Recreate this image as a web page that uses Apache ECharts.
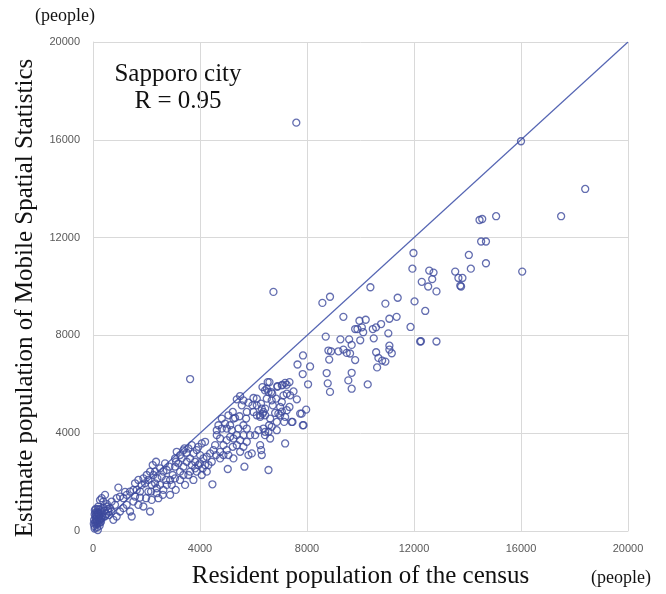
<!DOCTYPE html>
<html>
<head>
<meta charset="utf-8">
<script src="https://cdn.jsdelivr.net/npm/echarts@6/dist/echarts.min.js"></script>
<style>
html,body{margin:0;padding:0;background:#fff;}
#chart{width:666px;height:594px;}
</style>
</head>
<body>
<div id="chart"></div>
<script>
// Axis ticks
var xTicks = [0, 4000, 8000, 12000, 16000, 20000];
var yTicks = [0, 4000, 8000, 12000, 16000, 20000];
// Reference line y = x
var lineEnds = [[0, 0], [20000, 20000]];

// Census (x) and Mobile Spatial Statistics estimate (y), grouped by range
var censusA = [50,80,100,120,150,180,200,220,250,60,90,130,170,210,240,280,300,40,70,110,160,190,230,260,320,350,380,30,140,200,100,250,150,60,300,420,450,500,520,560,600,180,90,270,330];
var mobileA = [200,350,500,650,420,300,750,550,880,100,600,280,700,450,620,800,520,450,850,400,150,900,680,350,720,580,950,300,580,1000,900,220,760,680,380,820,600,700,1100,900,650,40,750,480,620];

var censusB = [325,387,948,761,886,1385,1447,1135,1010,1385,1260,1135,1010,886,823,698,636,574,512,1634,1759,1983,2070,2133,2195,1509,1696,1571,1883,1260,698,449,262,1200];
var mobileB = [1341,1205,1775,459,594,798,594,934,798,1613,1477,1341,1409,1341,1070,798,934,798,1002,1680,1613,1341,1612,798,1273,1205,1070,1409,1002,1070,1205,1477,1262,1600];

var censusC = [1821,1945,2070,2232,2357,2133,2257,2407,2569,2507,2631,2756,2694,2856,2607,2382,2507,2756,2881,3093,2195,2320,2008,1883,1696,1571,2445,2631,2980,2731,2943,3068,2881,2320,2382,2170,1759,1509];
var mobileC = [1884,1951,2087,2698,2833,2426,2291,2155,2223,2562,2426,2494,2766,2630,1477,1748,1884,1884,2087,1680,1884,1951,2291,2155,2087,1951,1341,1680,2291,2087,1884,2155,1477,2426,1545,1612,1368,1680];

var censusD = [3130,3068,3317,3192,3068,3254,3379,3504,3567,3417,3504,3691,3878,3754,4103,4191,4252,3941,4003,4066,4191,4128,4252,4377,4464,3379,3629,3816,3941,3254,3442,3629,3754,3878,3567,4066,4315,4440,3105,3254,3379,3816,4003,3691,3630];
var mobileD = [3240,2969,2969,2766,2630,2426,2291,3200,3376,3376,2833,2698,2426,2087,2562,2698,2426,3444,3105,3580,3648,2969,3037,3173,1911,2630,2426,2833,2698,2087,1884,2969,3173,3308,2291,2291,2698,2833,2833,3105,3300,2562,2766,3512,6215];

var censusE = [4565,4502,4602,4627,4751,4876,4814,4627,4938,5000,5126,5250,5000,5225,5375,5500,5038,5661,5126,5437,5749,5873,5225,5312,5475,5724,5375,5500,5624,5562,5811,5961,5998,5935,5811,4751,4876,5063,5250,5500,5624,5749,4751,5188,5000,4814,5063,5624,5749,5375,5624,4689,5250];
var mobileE = [3512,3308,3105,3919,3783,3512,4191,4123,4394,3716,3851,3783,3308,3444,3512,3716,2535,2630,4326,4191,4191,3919,4869,4625,4693,4598,5385,5520,5344,5140,5249,5140,4869,3173,3105,3240,3105,3105,2969,3240,3444,3648,2969,4123,4191,4598,4733,4326,4869,3919,3919,4326,4598];

var censusF = [6123,5998,6335,6497,6597,6660,6846,6721,6996,7058,6809,6622,6584,6435,6347,6248,6123,6310,6435,6185,6060,6248,6285,6310,6560,6896,7058,7183,7345,7495,7120,7245,7370,7620,7345,7145,7183,7457,7744,7968,7844,7183,6435,6622,6871,6871,6996,6497,6123,6372,6530,6890,7080,7240,6560,6700,6430,6680,7245,6930,7060,7800,7430,7870,6280,6370,6250,6680,6560,6430,6745,7645];
var mobileF = [5412,5440,5887,5819,6090,5683,5412,5140,5073,5276,4828,4598,4326,4733,4801,4666,4733,5005,5005,4123,3919,3512,3308,3105,2494,5928,5955,6060,6090,5710,5548,5615,5548,5385,5073,4462,4666,4462,4801,4964,4326,3580,4055,3783,4123,4462,4733,5412,5140,4191,6090,5900,5980,5980,5685,5617,5750,5345,4940,4800,4885,4800,4460,4330,5210,4870,4730,4260,4060,3920,9780,6810];

var censusG = [7600,16000,18400,17500,14450,14550,15070,14510,14690,14050,14125,14690,16045,11980,11940,12570,12730,12680,12290,12530,12840,13540,13660,13810,13730,13760,10370,8575,8860,9360,9960,10195,9800,9885,10050,10100,10460,10580,10770,10930,11390,11080,11350,11870,12020,12420,12230,12260,12840,8700,9250,9575,9670,9990,10495,11040,8900,9175,9360,9485,9610,8830,9800,10585,10670,10810,10930,11080,11080,11170,10620,7850,8115,7840,8040,8735,8775,8860,9670,9545,9670,10270,8800];
var mobileG = [16700,15940,13990,12875,12720,12760,12875,11840,11840,11290,10730,10950,10610,11370,10730,10650,10570,10300,10190,10000,9800,10610,10350,10350,10030,10000,9970,9330,9580,8760,8600,8640,8260,8260,8330,8130,8260,8330,8465,9300,9540,8680,8760,8345,9390,9000,7750,7760,7750,7950,7840,7840,7610,7800,7880,8085,7350,7350,7420,7285,7260,7010,6990,7310,7080,6970,6930,7580,7420,7270,6690,7180,6730,6420,6000,6460,6040,5690,6470,6160,5820,5995,7380];

var censusAll = [].concat(censusA, censusB, censusC, censusD, censusE, censusF, censusG);
var mobileAll = [].concat(mobileA, mobileB, mobileC, mobileD, mobileE, mobileF, mobileG);
var points = censusAll.map(function (x, i) { return [x, mobileAll[i]]; });

var chart = echarts.init(document.getElementById('chart'), null, {renderer: 'canvas'});
var serif = '"Liberation Serif", "Times New Roman", serif';
var sans = '"Liberation Sans", Arial, sans-serif';
var gridColor = '#d9d9d9';

function axisCommon(ticks) {
  return {
    type: 'value',
    min: ticks[0],
    max: ticks[ticks.length - 1],
    interval: ticks[1] - ticks[0],
    axisLine: {show: true, lineStyle: {color: gridColor, width: 1}},
    axisTick: {show: false},
    splitLine: {show: true, lineStyle: {color: gridColor, width: 1}},
    axisLabel: {color: '#595959', fontSize: 11, fontFamily: sans, formatter: function (v) { return String(v); }}
  };
}

var xAxis = axisCommon(xTicks);
xAxis.axisLabel.margin = 12;
xAxis.name = 'Resident population of the census';
xAxis.nameLocation = 'middle';
xAxis.nameGap = 33;
xAxis.nameTextStyle = {fontFamily: serif, fontSize: 25, color: '#111'};

var yAxis = axisCommon(yTicks);
yAxis.axisLabel.margin = 13;

chart.setOption({
  animation: false,
  backgroundColor: '#ffffff',
  grid: {left: 93, right: 38, top: 42, bottom: 61, containLabel: false},
  xAxis: xAxis,
  yAxis: yAxis,
  series: [
    {
      type: 'line',
      data: lineEnds,
      symbol: 'none',
      silent: true,
      z: 1,
      lineStyle: {color: '#5565b3', width: 1.2}
    },
    {
      type: 'scatter',
      data: points,
      symbol: 'circle',
      symbolSize: 7,
      z: 2,
      itemStyle: {color: 'rgba(255,255,255,0)', borderColor: '#3d4a9c', borderWidth: 1.3}
    }
  ],
  graphic: [
    {type: 'text', left: 35, top: 7, style: {text: '(people)', font: '18px ' + serif, fill: '#111'}},
    {type: 'text', left: 591, top: 569, style: {text: '(people)', font: '18px ' + serif, fill: '#111'}},
    {type: 'text', x: 178, y: 74, style: {text: 'Sapporo city', font: '25px ' + serif, fill: '#111', align: 'center', verticalAlign: 'middle'}},
    {type: 'text', x: 178, y: 101, style: {text: 'R = 0.95', font: '25px ' + serif, fill: '#111', align: 'center', verticalAlign: 'middle'}},
    {type: 'text', x: 25, y: 298, rotation: Math.PI / 2, style: {text: 'Estimate population of Mobile Spatial Statistics', font: '25px ' + serif, fill: '#111', align: 'center', verticalAlign: 'middle'}}
  ]
});
</script>
</body>
</html>
